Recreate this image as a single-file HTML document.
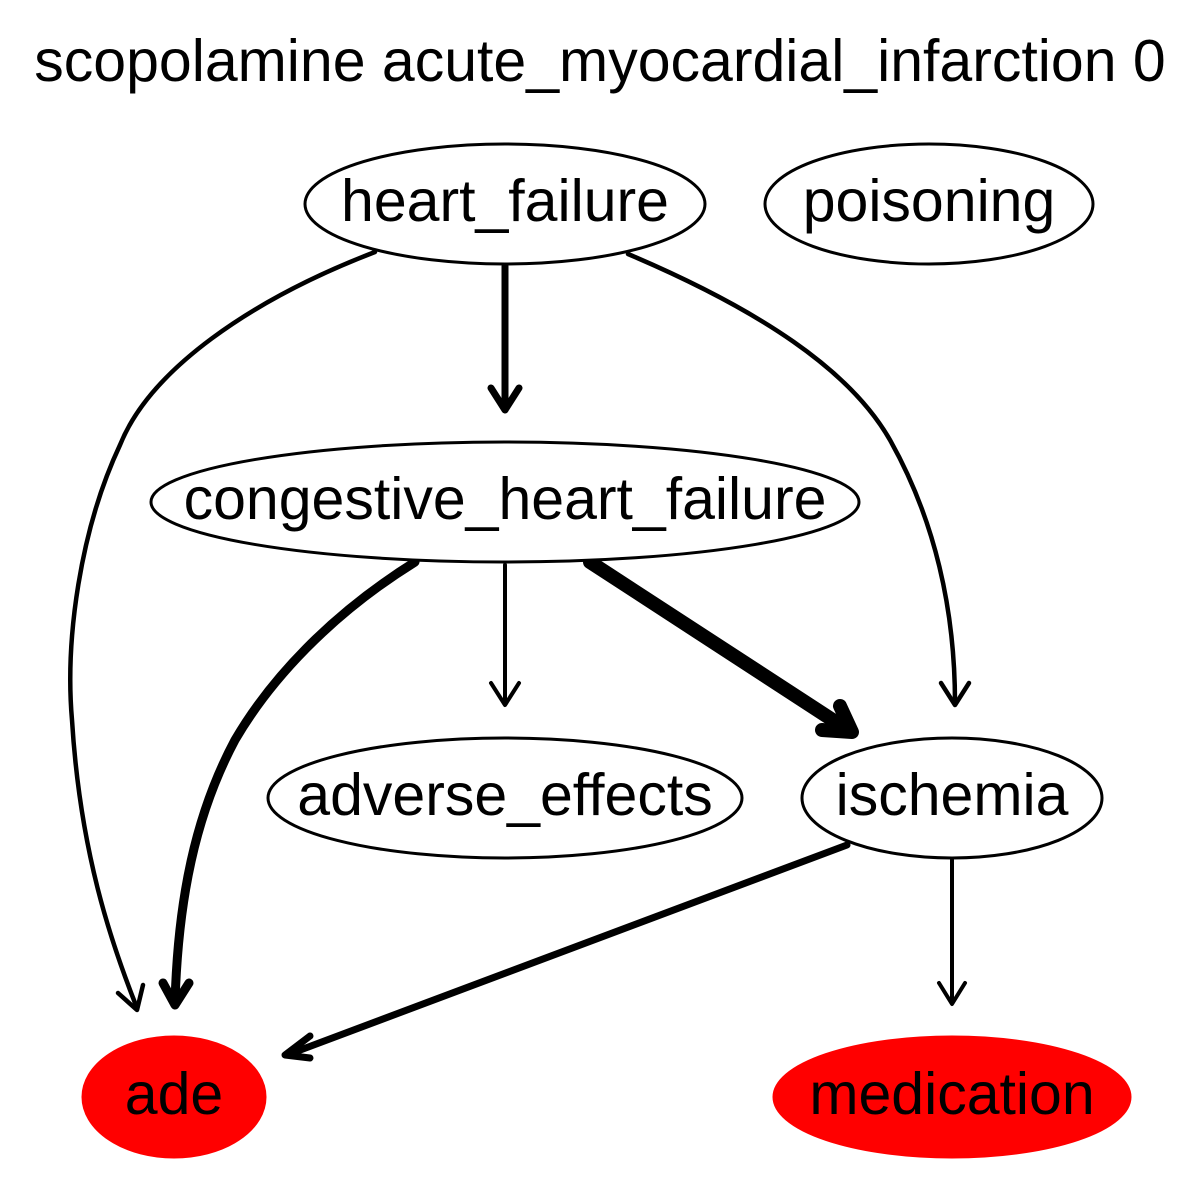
<!DOCTYPE html>
<html><head><meta charset="utf-8"><style>
html,body{margin:0;padding:0;background:#fff;}
svg{display:block;}
text{font-family:"Liberation Sans",sans-serif;}
</style></head><body>
<svg id="g" width="1200" height="1200" viewBox="0 0 1200 1200">
<rect width="1200" height="1200" fill="#fff"/>
<text x="600" y="81" font-size="59" text-anchor="middle">scopolamine acute_myocardial_infarction 0</text>
</svg>
<script>
const nodeNames = ["heart_failure","poisoning","congestive_heart_failure","adverse_effects","ischemia","ade","medication"];
const nodeX = [505,929,505,505,952,174,952];
const nodeY = [204,204,502,798,798,1097,1097];
const nodeRx = [200,164,354,237,150,91,178];
const nodeFill = ["#fff","#fff","#fff","#fff","#fff","#f00","#f00"];
const edgePaths = [
 ["M505,266 L505,408","M491,388 L505,410 L519,388",7],
 ["M375,252 C250,300 150,370 120,445 C80,530 65,640 72,720 C80,850 110,940 137,1008","M118,993 L137,1010 L143,985",4.5],
 ["M628,254 C760,310 850,370 890,440 C935,520 955,610 955,703","M941,683 L955,705 L969,683",4.5],
 ["M415,562 C330,615 270,680 235,740 C195,815 178,900 175,1003","M163,983 L175,1005 L189,983",9],
 ["M505,565 L505,703","M491,683 L505,705 L519,683",4],
 ["M590,562 L848,730","M822,730 L852,732 L840,706",14],
 ["M847,845 L287,1055","M310,1036 L285,1055 L310,1058",7],
 ["M952,860 L952,1002","M939,983 L952,1004 L965,983",4]
];
const svg=document.getElementById('g');
const NS="http://www.w3.org/2000/svg";
edgePaths.forEach((e,i)=>{
 const grp=document.createElementNS(NS,'g');
 
 
 [e[0],e[1]].forEach(d=>{
  const p=document.createElementNS(NS,'path');
  p.setAttribute('d',d);p.setAttribute('fill','none');p.setAttribute('stroke','#000');
  p.setAttribute('stroke-width',e[2]);p.setAttribute('stroke-linecap','round');p.setAttribute('stroke-linejoin','round');
  grp.appendChild(p);
 });
 svg.appendChild(grp);
});
nodeNames.forEach((n,i)=>{
 const grp=document.createElementNS(NS,'g');
 
 
 const el=document.createElementNS(NS,'ellipse');
 el.setAttribute('cx',nodeX[i]);el.setAttribute('cy',nodeY[i]);el.setAttribute('rx',nodeRx[i]);el.setAttribute('ry',60);
 el.setAttribute('fill',nodeFill[i]);el.setAttribute('stroke',nodeFill[i]==='#fff'?'#000':'#f00');el.setAttribute('stroke-width',3);
 grp.appendChild(el);
 const t=document.createElementNS(NS,'text');
 t.setAttribute('x',nodeX[i]);t.setAttribute('y',nodeY[i]+17);t.setAttribute('font-size',59);t.setAttribute('text-anchor','middle');
 t.textContent=n;
 grp.appendChild(t);
 svg.appendChild(grp);
});
</script>
</body></html>
